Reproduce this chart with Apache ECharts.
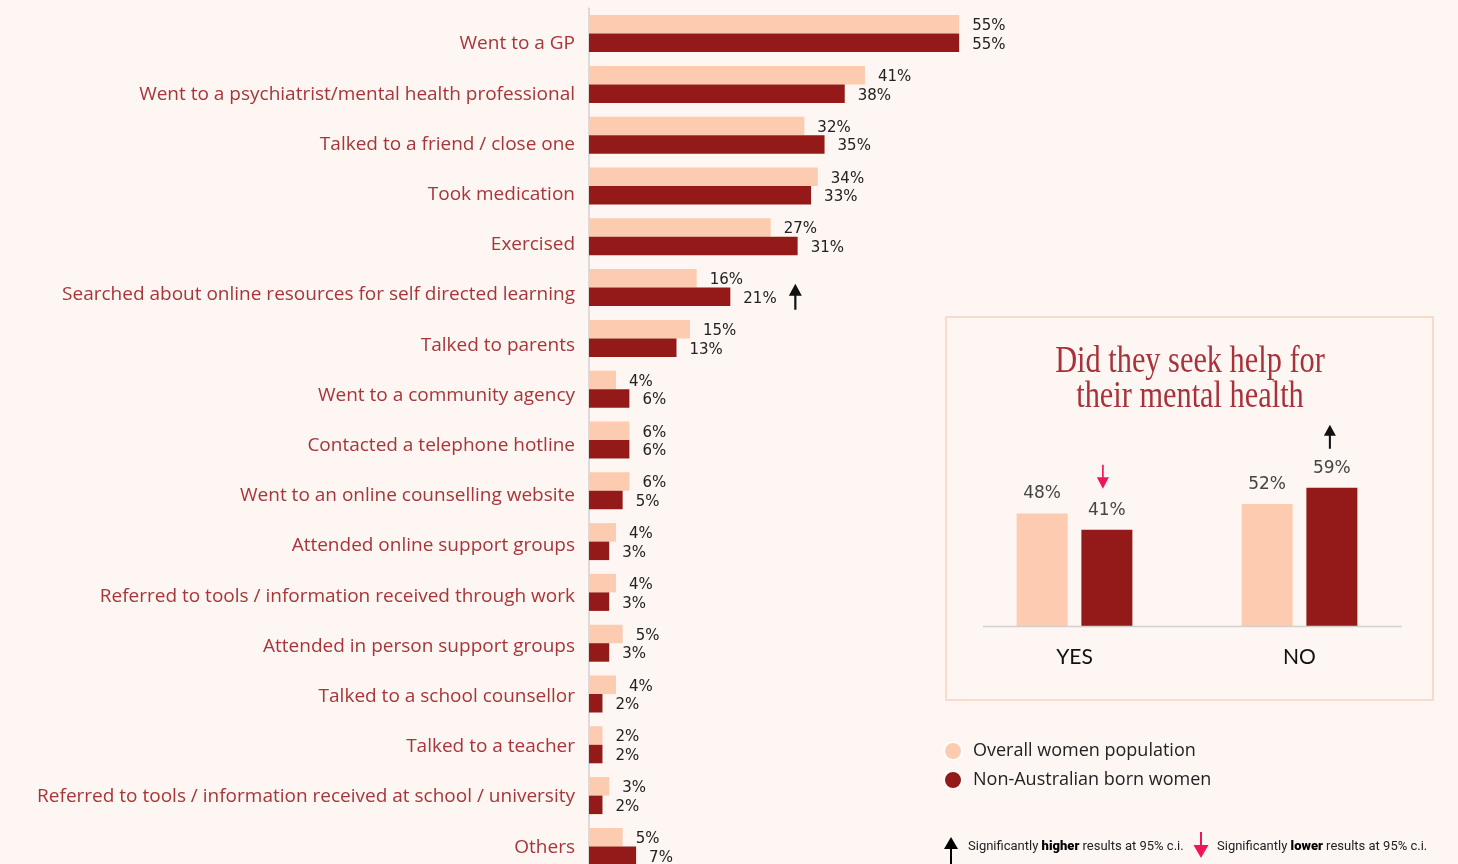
<!DOCTYPE html>
<html>
<head>
<meta charset="utf-8">
<title>Help-seeking for mental health</title>
<script src="https://cdn.jsdelivr.net/npm/echarts@6/dist/echarts.min.js"></script>
<style>
  html, body { margin: 0; padding: 0; background: #fdf6f3; }
  #chart { width: 1458px; height: 864px; }
</style>
</head>
<body>
<div id="chart"></div>
<script>
// Actions taken (percent of respondents)
const categories = [
  'Went to a GP',
  'Went to a psychiatrist/mental health professional',
  'Talked to a friend / close one',
  'Took medication',
  'Exercised',
  'Searched about online resources for self directed learning',
  'Talked to parents',
  'Went to a community agency',
  'Contacted a telephone hotline',
  'Went to an online counselling website',
  'Attended online support groups',
  'Referred to tools / information received through work',
  'Attended in person support groups',
  'Talked to a school counsellor',
  'Talked to a teacher',
  'Referred to tools / information received at school / university',
  'Others'
];
const overallWomen = [55, 41, 32, 34, 27, 16, 15, 4, 6, 6, 4, 4, 5, 4, 2, 3, 5];
const nonAustralianWomen = [55, 38, 35, 33, 31, 21, 13, 6, 6, 5, 3, 3, 3, 2, 2, 2, 7];
// categories where the non-Australian born result is significantly higher
const activitiesHigher = ['Searched about online resources for self directed learning'];

// Did they seek help for their mental health
const helpCategories = ['YES', 'NO'];
const helpOverall = [48, 52];
const helpNonAustralian = [41, 59];
const helpHigher = ['NO'];
const helpLower = ['YES'];

const seriesNames = ['Overall women population', 'Non-Australian born women'];
const LIGHT = '#fccbb0';
const DARK = '#931a18';
const BG = '#fdf6f3';

const ARROW_UP = 'path://M6.5,0 L13,12 L7.6,12 L7.6,26 L5.4,26 L5.4,12 L0,12 Z';
const ARROW_DOWN = 'path://M5.6,0 L7.4,0 L7.4,13 L13,13 L6.5,25 L0,13 L5.6,13 Z';

const chart = echarts.init(document.getElementById('chart'), null, { renderer: 'canvas' });

const activityMarks = activitiesHigher.map(function (name) {
  const i = categories.indexOf(name);
  return {
    coord: [nonAustralianWomen[i], i],
    symbol: ARROW_UP, symbolSize: [13, 26], symbolOffset: [65, 0],
    itemStyle: { color: '#111' }
  };
});
const helpMarks = helpHigher.map(function (name) {
  const i = helpCategories.indexOf(name);
  return {
    coord: [i, helpNonAustralian[i]],
    symbol: ARROW_UP, symbolSize: [12, 24], symbolOffset: [-2, -51],
    itemStyle: { color: '#111' }
  };
}).concat(helpLower.map(function (name) {
  const i = helpCategories.indexOf(name);
  return {
    coord: [i, helpNonAustralian[i]],
    symbol: ARROW_DOWN, symbolSize: [12, 24], symbolOffset: [-4, -53],
    itemStyle: { color: '#f0145a' }
  };
}));

const barLabel = {
  show: true, position: 'right', distance: 13, offset: [0, 2], formatter: '{c}%',
  color: '#222', fontSize: 15, fontFamily: 'DejaVu Sans'
};
const colLabel = {
  show: true, position: 'top', distance: 11, formatter: '{c}%',
  color: '#444', fontSize: 17, fontFamily: 'DejaVu Sans'
};

const option = {
  animation: false,
  backgroundColor: BG,
  color: [LIGHT, DARK],
  legend: {
    data: seriesNames,
    orient: 'vertical', left: 938, top: 736,
    itemWidth: 18, itemHeight: 18, itemGap: 9, icon: 'circle',
    itemStyle: { borderColor: '#ffffff', borderWidth: 2 },
    textStyle: { fontSize: 18, color: '#222', fontFamily: 'Open Sans', padding: [0, 0, 0, 6] },
    selectedMode: false
  },
  grid: [
    // activity bars
    { left: 589, top: 8.2, width: 673, height: 863.6, outerBoundsMode: 'none' },
    // yes / no columns
    { left: 962, top: 391.5, width: 450, height: 234.5, outerBoundsMode: 'none' },
    // activity names
    { left: 589, top: 18.9, width: 673, height: 853.4, outerBoundsMode: 'none' }
  ],
  xAxis: [
    { type: 'value', gridIndex: 0, min: 0, max: 100, show: false },
    {
      type: 'category', gridIndex: 1, data: helpCategories,
      axisLine: { show: false }, axisTick: { show: false },
      axisLabel: { fontSize: 21, color: '#111', margin: 21, fontFamily: 'Lato' }
    },
    { type: 'value', gridIndex: 2, min: 0, max: 1, show: false }
  ],
  yAxis: [
    {
      type: 'category', gridIndex: 0, data: categories, inverse: true,
      axisLine: { show: true, lineStyle: { color: '#dedada', width: 2 } },
      axisTick: { show: false },
      axisLabel: { show: false }
    },
    { type: 'value', gridIndex: 1, min: 0, max: 100, show: false },
    {
      type: 'category', gridIndex: 2, data: categories, inverse: true,
      axisLine: { show: false }, axisTick: { show: false },
      axisLabel: { fontSize: 19, color: '#a83538', margin: 14, fontFamily: 'Open Sans' }
    }
  ],
  series: [
    {
      name: seriesNames[0], type: 'bar', xAxisIndex: 0, yAxisIndex: 0,
      data: overallWomen, barWidth: 18.5, barGap: '0%',
      itemStyle: { color: LIGHT }, label: barLabel
    },
    {
      name: seriesNames[1], type: 'bar', xAxisIndex: 0, yAxisIndex: 0,
      data: nonAustralianWomen, barWidth: 18.5, barGap: '0%',
      itemStyle: { color: DARK }, label: barLabel,
      markPoint: { data: activityMarks, label: { show: false }, silent: true }
    },
    {
      name: seriesNames[0], type: 'bar', xAxisIndex: 1, yAxisIndex: 1,
      data: helpOverall, barWidth: 51, barGap: '27%',
      itemStyle: { color: LIGHT }, label: colLabel
    },
    {
      name: seriesNames[1], type: 'bar', xAxisIndex: 1, yAxisIndex: 1,
      data: helpNonAustralian, barWidth: 51, barGap: '27%',
      itemStyle: { color: DARK }, label: colLabel,
      markPoint: { data: helpMarks, label: { show: false }, silent: true }
    }
  ],
  graphic: [
    // inset frame
    {
      type: 'rect', z: -1,
      shape: { x: 946, y: 317, width: 487, height: 383 },
      style: { fill: 'none', stroke: '#f8d2bf', lineWidth: 1.5 }
    },
    // inset title (condensed serif)
    {
      type: 'text', x: 1190, y: 345, scaleX: 0.82,
      style: {
        text: 'Did they seek help for\ntheir mental health',
        align: 'center', verticalAlign: 'top',
        fontFamily: 'Liberation Serif', fontSize: 37, lineHeight: 35,
        fill: '#a8323a'
      }
    },
    // inset baseline
    {
      type: 'line', z: 10,
      shape: { x1: 983, y1: 626.5, x2: 1402, y2: 626.5 },
      style: { stroke: '#d4d0cf', lineWidth: 1.5 }
    },
    // significance key: higher
    {
      type: 'polygon', shape: { points: [[951, 837], [958, 849], [944, 849]] },
      style: { fill: '#000' }
    },
    {
      type: 'rect', shape: { x: 950, y: 848, width: 2, height: 18 },
      style: { fill: '#000' }
    },
    {
      type: 'text', x: 968, y: 847,
      style: {
        text: '{a|Significantly }{b|higher}{a| results at 95% c.i.}',
        verticalAlign: 'middle',
        rich: {
          a: { fontSize: 13, fontFamily: 'Roboto', fill: '#222' },
          b: { fontSize: 13, fontFamily: 'Roboto', fontWeight: 900, fill: '#000' }
        }
      }
    },
    // significance key: lower
    {
      type: 'rect', shape: { x: 1200, y: 832, width: 2, height: 14 },
      style: { fill: '#f0145a' }
    },
    {
      type: 'polygon', shape: { points: [[1193.5, 845], [1208.5, 845], [1201, 858]] },
      style: { fill: '#f0145a' }
    },
    {
      type: 'text', x: 1217, y: 847,
      style: {
        text: '{a|Significantly }{b|lower}{a| results at 95% c.i.}',
        verticalAlign: 'middle',
        rich: {
          a: { fontSize: 13, fontFamily: 'Roboto', fill: '#222' },
          b: { fontSize: 13, fontFamily: 'Roboto', fontWeight: 900, fill: '#000' }
        }
      }
    }
  ]
};

chart.setOption(option);
</script>
</body>
</html>
